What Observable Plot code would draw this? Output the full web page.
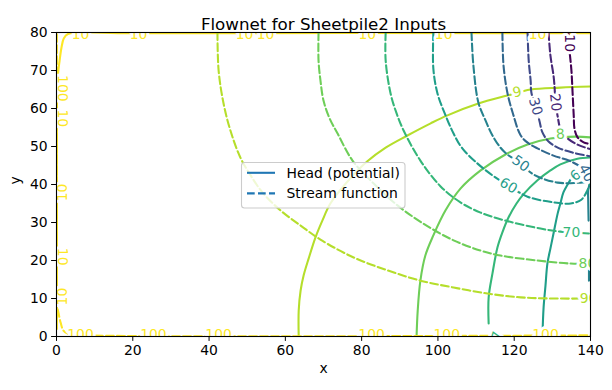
<!DOCTYPE html>
<html><head><meta charset="utf-8">
<script src="https://cdn.jsdelivr.net/npm/d3@7"></script>
<script src="https://cdn.jsdelivr.net/npm/@observablehq/plot@0.6"></script>
<style>body{margin:0;background:#fff;} #chart svg{display:block;}</style>
</head><body><div id="chart"></div>
<script>
// ---- axis ticks ----
const xTicks = [0, 20, 40, 60, 80, 100, 120, 140];
const yTicks = [0, 10, 20, 30, 40, 50, 60, 70, 80];

// ---- Head (potential) contours, solid: [x, y] ----
const head10 = [[0.1,2],[0.1,30],[0.1,60],[0.3,68],[0.8,72.5],[1.3,76],[1.9,78.4],[3,79.6],[20,79.8],[140,79.8]];
const head9 = [[63.5,0],[63.5,6.8],[64.0,12.1],[64.8,16.1],[66.1,20.5],[67.9,26.1],[69.7,30.5],[71.8,35.0],[76.3,40.8],[81.5,46.1],[86.3,49.7],[92.0,52.9],[98.1,56.1],[102.5,58.2],[110.6,61.3],[118.2,63.4],[124.3,65.0],[132.1,65.5],[140,65.8]];
const head8 = [[94.4,0],[94.7,6.8],[95.4,14.7],[96.7,21.3],[98.8,26.6],[102.0,33.2],[105.9,38.9],[111.2,43.7],[117.7,47.9],[123.5,50.5],[129.5,52.1],[136.1,52.6],[140,52.4]];
const head7 = [[113.3,3.4],[113.3,10.3],[114.3,16.6],[115.6,23.4],[116.9,27.4],[118.5,31.3],[120.6,35.0],[122.4,37.4],[126.1,41.1],[129.5,43.7],[132.1,45.3],[136.6,46.8],[140,47.1]];
const head6 = [[127.4,0],[127.7,7.6],[128.2,13.4],[128.7,19.2],[129.5,23.2],[130.3,27.1],[131.4,32.4],[132.1,35.0],[132.9,37.9],[134.0,40.0],[135.0,41.6],[136.1,42.4],[137.4,43.7],[140,44.7]];
const head5Upper = [[139.9,40.5],[139.4,38.5],[139.4,35.8],[139.5,30.5]];
const head5Lower = [[139.6,19.2],[139.6,14.7]];

// ---- Stream function contours, dashed ----
const stream100 = [[0.1,79.5],[0.1,40],[0.1,20],[0.2,8],[0.5,6.3],[1.1,3.6],[1.8,1.6],[3,0.7],[5,0.4],[140,0.3]];
const stream90 = [[42.2,80],[42.5,70],[43.8,61.3],[45.6,54.2],[48.2,47.1],[50.9,42.4],[54.0,37.9],[58.7,33.2],[64.0,29.2],[69.2,25.5],[77.9,20.8],[86.8,17.4],[95.4,14.7],[104.1,12.9],[113.0,11.3],[121.7,10.3],[130.3,10.0],[140,10.0]];
const stream80 = [[68.7,80],[68.7,72.6],[69.2,67.4],[70.0,62.1],[71.6,57.4],[73.7,53.4],[77.6,46.3],[83.1,40.3],[89.4,34.5],[96.2,29.7],[104.1,25.3],[111.2,22.6],[116.4,21.3],[126.1,20.0],[134.8,19.2],[140,19.1]];
const stream70 = [[86.3,80],[86.3,72.6],[87.6,63.9],[89.1,58.9],[91.0,54.2],[95.4,46.3],[100.7,39.5],[105.9,35.3],[111.2,32.6],[117.7,30.5],[126.9,28.4],[132.1,27.6],[140,27.1]];
const stream60 = [[98.8,80],[98.8,70.5],[99.9,63.9],[102.0,58.2],[104.1,53.4],[106.4,49.5],[110.4,45.5],[114.3,42.4],[118.5,39.7],[123.5,36.8],[130.3,35.3],[134.8,35.0],[137.6,36.0],[139.2,38.5],[139.8,40.0]];
const stream50 = [[108.8,80],[109.3,71.3],[110.6,61.6],[112.5,56.8],[114.3,52.9],[116.4,49.7],[118.2,47.9],[121.7,45.5],[125.1,42.6],[131.4,40.5],[137.4,40.5],[140,40.8]];
const stream40 = [[116.9,80],[117.2,71.3],[118.2,64.2],[119.6,58.9],[121.7,52.9],[123.8,50.8],[126.1,49.5],[130.3,47.6],[134.3,46.3],[136.9,45.0],[138.9,43.5],[140,42.5]];
const stream30 = [[123.5,80],[123.8,72.6],[124.3,67.4],[124.5,64.2],[125.6,60.5],[126.6,56.8],[127.4,53.7],[129.0,51.3],[131.4,49.7],[135.3,48.4],[140,47.4]];
const stream20 = [[129.0,80],[129.5,73.9],[130.3,68.7],[130.6,65.3],[130.8,61.6],[131.4,57.9],[132.1,54.7],[133.7,52.4],[136.6,50.5],[140,49.3]];
const stream10 = [[134.2,80],[134.5,75.3],[135.0,70],[135.3,64.2],[135.6,58.2],[135.8,54.7],[136.6,52.4],[138.2,51.1],[140,50.6]];

// ---- contour labels: [text, x, y, angle, level] ----
const headLabels = [
  ["10",6.3,79.4,0,10],["10",21.5,79.4,0,10],["10",49.3,79.4,0,10],["10",54.8,79.4,0,10],
  ["10",81.5,79.4,0,10],["10",101.5,79.4,0,10],["10",126.1,79.4,0,10],
  ["10",1.6,57.4,90,10],["10",1.6,37.9,-90,10],["10",1.6,21.0,90,10],["10",1.6,10.5,-90,10],
  ["9",120.8,64.3,-12,9],["8",132.1,53.2,-4,8],["7",115.6,0.2,-75,7],["6",136.1,42.4,-40,6]
];
const streamLabels = [
  ["100",6.3,0.6,0,100],["100",25.4,0.6,0,100],["100",42.5,0.6,0,100],["100",82.6,0.6,0,100],
  ["100",102.3,0.6,0,100],["100",128.2,0.6,0,100],["100",1.6,65.3,90,100],
  ["90",139.5,10.0,0,90],["80",139.2,19.3,0,80],["70",135.0,27.4,0,70],["60",118.5,39.7,31,60],
  ["50",121.7,45.5,36,50],["40",138.9,43.0,62,40],["30",125.6,60.5,74,30],["20",130.8,61.6,84,20],
  ["10",134.5,77.2,90,10]
];

// ---- build tables ----
const headColor = h => d3.interpolateViridis((h - 1) / 9);
const streamColor = s => d3.interpolateViridis((s - 10) / 90);
const heads = [[10,head10],[9,head9],[8,head8],[7,head7],[6,head6],[5,head5Upper],[5,head5Lower]];
const streams = [[100,stream100],[90,stream90],[80,stream80],[70,stream70],[60,stream60],[50,stream50],[40,stream40],[30,stream30],[20,stream20],[10,stream10]];
const toRows = (sets, colorFn, kind) => sets.flatMap(([lvl, pts], i) =>
  pts.map(([x, y]) => ({x, y, id: kind + i, color: colorFn(lvl)})));
const headRows = toRows(heads, headColor, "h");
const streamRows = toRows(streams, streamColor, "s");
const labelRows = [
  ...headLabels.map(([t,x,y,a,l]) => ({t,x,y,a,color: headColor(l)})),
  ...streamLabels.map(([t,x,y,a,l]) => ({t,x,y,a,color: streamColor(l)}))
];

const FS = 13.9;
const plot = Plot.plot({
  width: 612, height: 390,
  marginLeft: 56, marginRight: 22, marginTop: 32, marginBottom: 54,
  style: {fontFamily: "DejaVu Sans", fontSize: FS + "px", color: "black", background: "white"},
  x: {domain: [0, 140], label: null},
  y: {domain: [0, 80], label: null},
  color: {type: "identity"},
  marks: [
    Plot.line(headRows, {x: "x", y: "y", z: "id", stroke: "color", strokeWidth: 2.08, curve: "catmull-rom", clip: true}),
    Plot.line(streamRows, {x: "x", y: "y", z: "id", stroke: "color", strokeWidth: 2.08, strokeDasharray: "7.7,3.3", curve: "catmull-rom", clip: true}),
    Plot.text(labelRows, {x: "x", y: "y", text: "t", rotate: "a", fill: "color", stroke: "white", strokeWidth: 6, fontSize: FS, clip: true}),
    Plot.frame({stroke: "black", strokeWidth: 1.1}),
    Plot.axisX({ticks: xTicks, tickSize: 4.9, tickPadding: 4, fontSize: FS, label: null}),
    Plot.axisY({ticks: yTicks, tickSize: 4.9, tickPadding: 4, fontSize: FS, label: null}),
    Plot.text(["Flownet for Sheetpile2 Inputs"], {frameAnchor: "top", dy: -14, fontSize: 16.7}),
    Plot.text(["x"], {frameAnchor: "bottom", dy: 36, fontSize: FS}),
    Plot.text(["y"], {frameAnchor: "left", dx: -41, rotate: -90, fontSize: FS})
  ]
});
document.getElementById("chart").appendChild(plot);

// ---- legend ----
const svg = d3.select(plot);
const lg = svg.append("g").attr("font-family", "DejaVu Sans").attr("font-size", FS + "px").attr("text-anchor", "start");
lg.append("rect").attr("x", 241.5).attr("y", 162.5).attr("width", 163.5).attr("height", 45.5).attr("rx", 3)
  .attr("fill", "white").attr("fill-opacity", 0.8).attr("stroke", "#cccccc").attr("stroke-width", 1.1);
const items = [["Head (potential)", null, 172.8], ["Stream function", "7.7,3.3", 193.4]];
for (const [label, dash, yy] of items) {
  lg.append("line").attr("x1", 247).attr("x2", 275).attr("y1", yy).attr("y2", yy)
    .attr("stroke", "#1f77b4").attr("stroke-width", 2.08).attr("stroke-dasharray", dash);
  lg.append("text").attr("x", 286.5).attr("y", yy).attr("dy", "0.35em").attr("fill", "black")
    .attr("text-anchor", "start").text(label);
}
</script></body></html>
